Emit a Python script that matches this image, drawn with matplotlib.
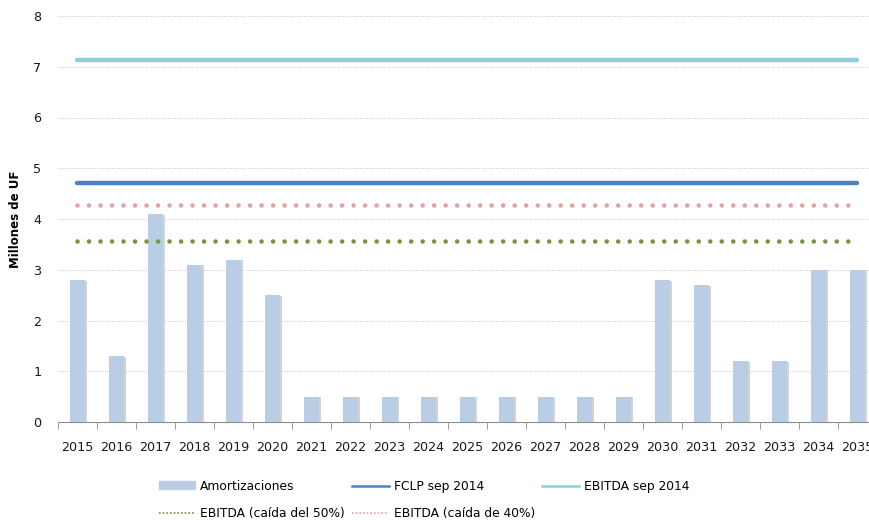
import numpy as np
import matplotlib

matplotlib.use('Agg')
import matplotlib.pyplot as plt
from matplotlib.lines import Line2D
from matplotlib.patches import Patch
import matplotlib.patheffects as pe

years = [str(y) for y in range(2015, 2036)]
amortizaciones = [2.8, 1.3, 4.1, 3.1, 3.2, 2.5, 0.5, 0.5, 0.5, 0.5, 0.5,
                  0.5, 0.5, 0.5, 0.5, 2.8, 2.7, 1.2, 1.2, 3.0, 3.0]
fclp_sep_2014 = 4.7
ebitda_sep_2014 = 7.13
ebitda_caida_50 = 3.57
ebitda_caida_40 = 4.28

BAR, FCLP, EBITDA = '#b9cde5', '#4f81bd', '#93cddd'
GREEN, PINK = '#77933c', '#e0a3a2'

plt.rcParams['font.family'] = 'DejaVu Sans'

fig = plt.figure(figsize=(8.7, 5.2), dpi=100)
ax = fig.add_axes([58 / 870, 1 - 422 / 520, 819 / 870, (422 - 16) / 520])

x = np.arange(len(years))
ax.bar(x, amortizaciones, width=0.4, color=BAR, zorder=3,
       path_effects=[pe.SimplePatchShadow(offset=(1.5, -0.5), shadow_rgbFace='#c8c8c8', alpha=0.8),
                     pe.Normal()])

xs = [x[0], x[-1]]
ax.plot(xs, [ebitda_sep_2014] * 2, color=EBITDA, lw=3.2, solid_capstyle='round', zorder=4)
ax.plot(xs, [fclp_sep_2014] * 2, color=FCLP, lw=3.2, solid_capstyle='round', zorder=4)
ax.plot(xs, [ebitda_caida_40] * 2, color=PINK, lw=3.3, ls=(0, (0.01, 2.5)),
        dash_capstyle='round', zorder=4)
ax.plot(xs, [ebitda_caida_50] * 2, color=GREEN, lw=3.3, ls=(0, (0.01, 2.5)),
        dash_capstyle='round', zorder=4)

ax.set_xlim(-0.5, len(years) - 0.5)
ax.set_ylim(0, 8)
ax.set_yticks(range(0, 9))
ax.yaxis.grid(True, ls=(0, (1, 1.5)), color='#c8c8c8', lw=0.7, zorder=0)
ax.set_xticks(x)
ax.set_xticklabels(years)
ax.set_xticks(np.arange(-0.5, len(years)), minor=True)
ax.tick_params(axis='x', which='major', length=0, pad=14, labelsize=9.2, colors='#1a1a1a')
ax.tick_params(axis='x', which='minor', length=5, color='#8c8c8c', direction='out')
ax.tick_params(axis='y', length=0, pad=12, labelsize=9.2, colors='#1a1a1a')
for s in ['top', 'right', 'left']:
    ax.spines[s].set_visible(False)
ax.spines['bottom'].set_color('#8c8c8c')
ax.set_ylabel('Millones de UF', fontsize=8.5, fontweight='bold', labelpad=8)

handles = [
    Patch(color=BAR, label='Amortizaciones'),
    Line2D([], [], color=GREEN, lw=1.2, ls=(0, (1, 1.2)), label='EBITDA (caída del 50%)'),
    Line2D([], [], color=FCLP, lw=1.8, label='FCLP sep 2014'),
    Line2D([], [], color=PINK, lw=1.2, ls=(0, (1, 1.2)), label='EBITDA (caída de 40%)'),
    Line2D([], [], color=EBITDA, lw=1.8, label='EBITDA sep 2014'),
]
fig.legend(handles=handles, ncol=3, loc='center', bbox_to_anchor=(424 / 870, 1 - 500 / 520),
           frameon=False, fontsize=8.8, handlelength=3.0, handleheight=0.6,
           columnspacing=0.6, handletextpad=0.4, labelspacing=1.2)

fig.savefig('out.png', dpi=100)
